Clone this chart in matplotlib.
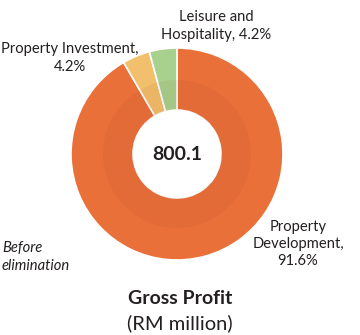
import matplotlib.pyplot as plt
from matplotlib.patches import Wedge

segments = ["Property Development", "Property Investment", "Leisure and Hospitality"]
shares = [91.6, 4.2, 4.2]
colors = ["#EA703A", "#F2BF6C", "#A9D18E"]
total_profit = "800.1"

plt.rcParams['font.family'] = ['Lato', 'DejaVu Sans']

fig = plt.figure(figsize=(3.6, 3.35), dpi=100)
ax = fig.add_axes([0, 0, 1, 1])

cx, cy = 177, 181
r_out, r_in = 106, 44

ax.pie(shares, colors=colors, startangle=90, counterclock=False,
       radius=r_out, center=(cx, cy), frame=True,
       wedgeprops=dict(width=r_out - r_in, edgecolor='white', linewidth=1.2))
ax.set_xlim(0, 360)
ax.set_ylim(0, 335)
ax.set_aspect('equal')
ax.axis('off')

# faint darker band on the inner part of the ring
ax.add_patch(Wedge((cx, cy), 74, 0, 360, width=74 - r_in,
                   facecolor='#6a2a10', alpha=0.06, linewidth=0))

ax.text(cx, cy, total_profit, ha='center', va='center',
        fontsize=14, fontweight='bold', color='#231f20')

txt = dict(color='#231f20', fontsize=10.6, linespacing=1.3)
ax.text(216, 335 - 26, "Leisure and\nHospitality, 4.2%", ha='center', va='center', **txt)
ax.text(70, 335 - 58, "Property Investment,\n4.2%", ha='center', va='center', **txt)
ax.text(298, 335 - 244, "Property\nDevelopment,\n91.6%", ha='center', va='center', **txt)
ax.text(2, 335 - 257, "Before\nelimination", ha='left', va='center',
        style='italic', **txt)

ax.text(180, 335 - 298, "Gross Profit", ha='center', va='center',
        fontsize=14, fontweight='bold', color='#231f20')
ax.text(180, 335 - 323, "(RM million)", ha='center', va='center',
        fontsize=14.5, color='#231f20')

fig.savefig('out.png', dpi=100)
